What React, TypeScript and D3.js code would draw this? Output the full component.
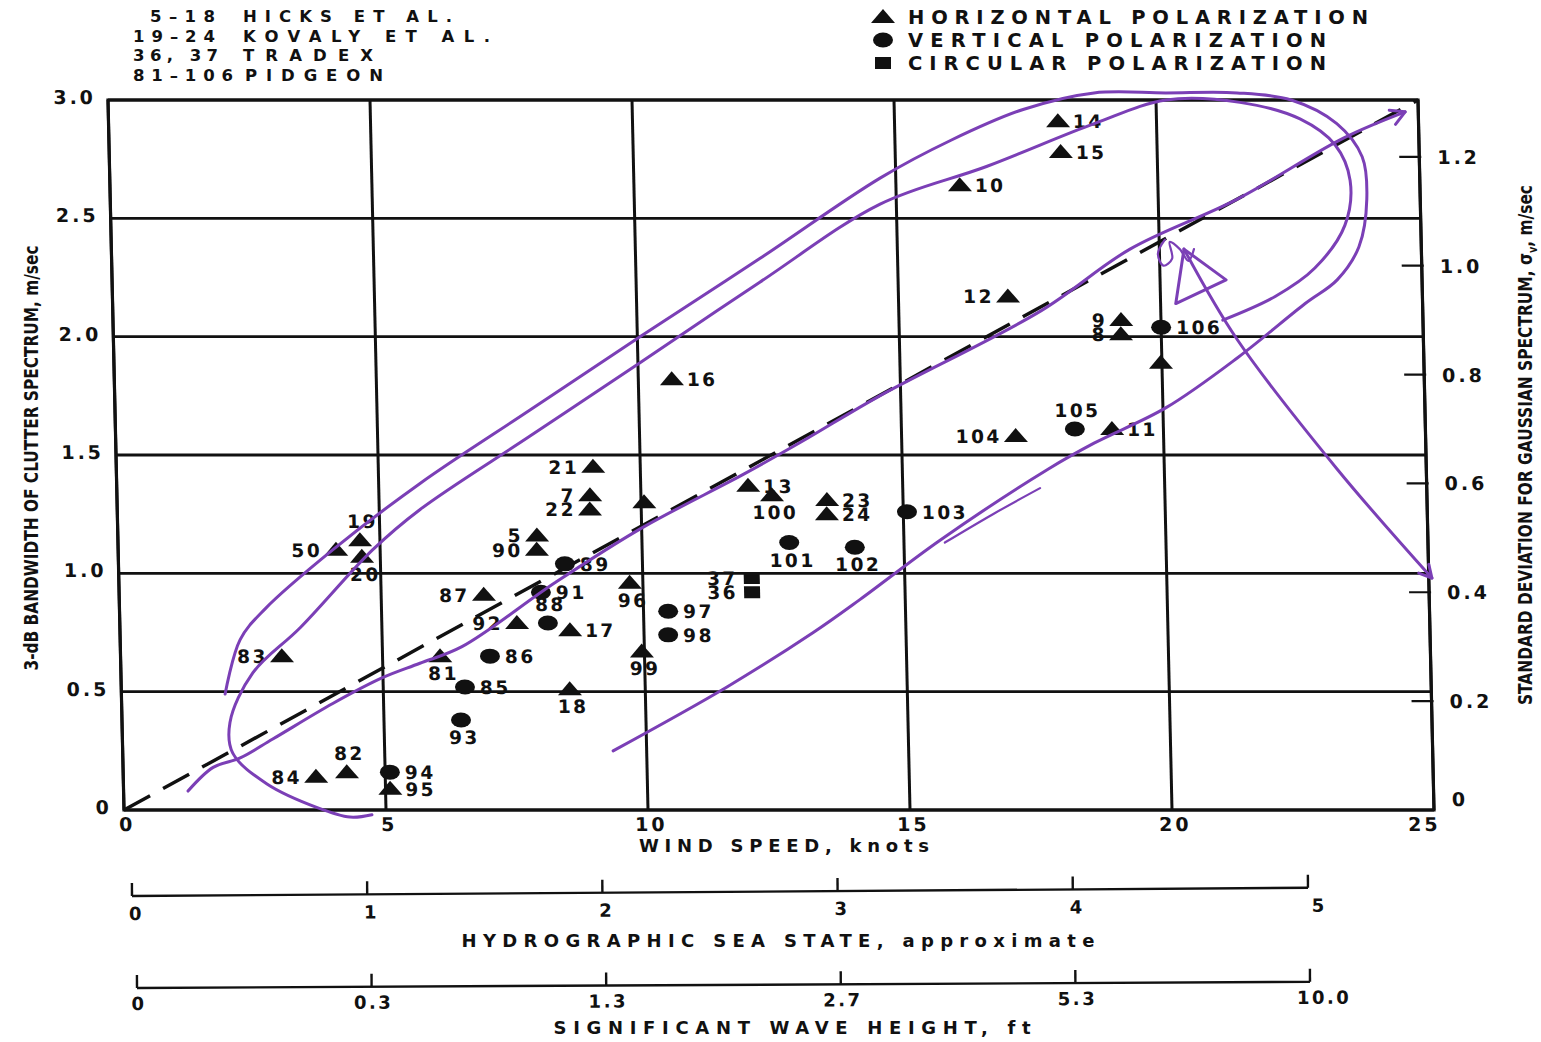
import React from 'react'
import * as d3 from 'd3'

type Pt = [number, number]

// legend text
const sourceRanges = ['5–18', '19–24', '36, 37', '81–106']
const sourceNames = ['HICKS ET AL.', 'KOVALY ET AL.', 'TRADEX', 'PIDGEON']
const polarizationKeys = ['H', 'V', 'C']
const polarizationNames = ['HORIZONTAL POLARIZATION', 'VERTICAL POLARIZATION', 'CIRCULAR POLARIZATION']

// measured points: wind speed (knots) vs 3-dB bandwidth (m/sec)
const pointIds = ['83', '50', '19', '20', '84', '82', '94', '95', '81', '85', '93', '86', '87', '92', '88', '91', '17', '89', '5', '90', '7', '22', '21', '', '96', '99', '18', '97', '98', '37', '36', '13', '100', '101', '102', '23', '24', '103', '16', '10', '14', '15', '12', '9', '8', '106', '', '104', '105', '11']
const windSpeed = [3.08, 4.16, 4.62, 4.65, 3.68, 4.27, 5.09, 5.09, 6.1, 6.56, 6.47, 7.05, 6.96, 7.58, 8.17, 8.05, 8.59, 8.52, 8.0, 7.99, 9.03, 9.02, 9.1, 10.06, 9.75, 9.95, 8.56, 10.47, 10.46, 12.08, 12.08, 12.05, 12.5, 12.81, 14.06, 13.55, 13.54, 15.07, 10.64, 16.22, 18.12, 18.16, 17.09, 19.24, 19.23, 20.0, 19.98, 17.18, 18.31, 19.02]
const bandwidth = [0.65, 1.1, 1.14, 1.07, 0.14, 0.16, 0.16, 0.09, 0.65, 0.52, 0.38, 0.65, 0.91, 0.79, 0.79, 0.92, 0.76, 1.04, 1.16, 1.1, 1.33, 1.27, 1.45, 1.3, 0.96, 0.67, 0.51, 0.84, 0.74, 0.98, 0.92, 1.37, 1.33, 1.13, 1.11, 1.31, 1.25, 1.26, 1.82, 2.64, 2.91, 2.78, 2.17, 2.07, 2.01, 2.04, 1.89, 1.58, 1.61, 1.61]
const polarization = ['H', 'H', 'H', 'H', 'H', 'H', 'V', 'H', 'H', 'V', 'V', 'V', 'H', 'H', 'V', 'V', 'H', 'V', 'H', 'H', 'H', 'H', 'H', 'H', 'H', 'H', 'H', 'V', 'V', 'C', 'C', 'H', 'H', 'V', 'V', 'H', 'H', 'V', 'H', 'H', 'H', 'H', 'H', 'H', 'H', 'V', 'H', 'H', 'V', 'H']
// which side of the marker each number sits on
const labelSide = ['l', 'l', 't', 'b', 'l', 't', 'r', 'r', 'b', 'r', 'b', 'r', 'l', 'l', 't', 'r', 'r', 'r', 'l', 'l', 'l', 'l', 'l', '', 'b', 'b', 'b', 'r', 'r', 'l', 'l', 'r', 'b', 'b', 'b', 'r', 'r', 'r', 'r', 'r', 'r', 'r', 'l', 'l', 'l', 'r', '', 'l', 't', 'r']

// axes
const windTicks = [0, 5, 10, 15, 20, 25]
const bandwidthTicks = [0, 0.5, 1, 1.5, 2, 2.5, 3]
const sigmaTicks = [0, 0.2, 0.4, 0.6, 0.8, 1.0, 1.2]
const sigmaFactor = 2.3
const seaStateTicks = [0, 1, 2, 3, 4, 5]
const waveHeightLabels = ['0', '0.3', '1.3', '2.7', '5.3', '10.0']
const referenceLine: Pt[] = [[0, 0], [25, 3]]

// hand-drawn pen marks on the scan, in (knots, m/sec)
const penLoopOuter: Pt[] = [[1.98, 0.49], [2.29, 0.72], [2.78, 0.85], [4.1, 1.1], [5.79, 1.38], [7.92, 1.69], [10.05, 2.0], [12.37, 2.33], [14.7, 2.67], [16.07, 2.83], [17.46, 2.96], [18.82, 3.03], [20.19, 3.03], [21.55, 3.03], [22.58, 3.0], [23.44, 2.9], [23.91, 2.76], [23.98, 2.58], [23.81, 2.38], [23.38, 2.24], [22.76, 2.14], [21.44, 1.91], [20.06, 1.7], [18.67, 1.55], [17.78, 1.44], [15.69, 1.14], [14.14, 0.89], [13.23, 0.75], [11.56, 0.52], [9.36, 0.25]]
const penLoopInner: Pt[] = [[4.73, -0.02], [4.31, -0.03], [3.69, 0.01], [2.74, 0.11], [2.1, 0.24], [2.06, 0.37], [2.52, 0.58], [3.44, 0.77], [4.86, 1.1], [5.78, 1.27], [7.91, 1.58], [10.04, 1.89], [12.36, 2.23], [14.69, 2.56], [16.75, 2.72], [18.81, 2.9], [20.19, 3.0], [21.6, 2.99], [22.74, 2.92], [23.4, 2.81], [23.67, 2.66], [23.55, 2.47], [22.96, 2.29], [22.19, 2.17], [21.18, 2.07]]
const penTrend: Pt[] = [[1.23, 0.08], [1.72, 0.18], [2.24, 0.22], [2.87, 0.3], [4.03, 0.45], [5.0, 0.56], [5.71, 0.62], [6.52, 0.69], [8.32, 0.96], [9.99, 1.19], [11.98, 1.42], [13.12, 1.56], [14.6, 1.75], [17.72, 2.11], [19.44, 2.37], [21.5, 2.58], [23.57, 2.84], [24.75, 2.95]]
const penPointer: Pt[] = [[25.06, 0.98], [23.3, 1.44], [21.44, 1.99], [20.47, 2.37]]
const penPointerHead: Pt[] = [[20.29, 2.14], [20.47, 2.37], [21.26, 2.24], [20.29, 2.14]]
const penScribble: Pt[] = [[20.11, 2.41], [19.97, 2.35], [20.07, 2.3], [20.24, 2.33], [20.2, 2.4], [20.39, 2.37], [20.55, 2.32], [20.66, 2.37]]
const penHook: Pt[] = [[15.78, 1.13], [16.71, 1.25], [17.62, 1.36]]

const INK = '#111'
const PEN = '#7b3fb6'
const FONT = "'DejaVu Sans', Verdana, sans-serif"
const NARROW = "'DejaVu Sans Condensed', 'Liberation Sans Narrow', 'DejaVu Sans', sans-serif"

export default function App () {
  const W = 1541
  const H = 1042
  const left = 108
  const top = 100
  const pw = 1310
  const ph = 710
  const skew = Math.atan(16 / ph) * 180 / Math.PI

  const x = d3.scaleLinear().domain([0, 25]).range([0, pw])
  const y = d3.scaleLinear().domain([0, 3]).range([ph, 0])
  const ySigma = d3.scaleLinear().domain([0, 3 / sigmaFactor]).range([ph, 0])
  const seaX = d3.scaleLinear().domain([0, 5]).range([0, 1176])
  const waveX = d3.scalePoint<string>().domain(waveHeightLabels).range([0, 1173])

  const pen = d3.line<Pt>().x(d => x(d[0])).y(d => y(d[1])).curve(d3.curveCatmullRom.alpha(0.5))
  const straight = d3.line<Pt>().x(d => x(d[0])).y(d => y(d[1]))

  const arrowHead = (from: Pt, to: Pt, len: number) => {
    const x1 = x(from[0]); const y1 = y(from[1])
    const x2 = x(to[0]); const y2 = y(to[1])
    const a = Math.atan2(y2 - y1, x2 - x1)
    const b = 0.5
    return `M${x2 - len * Math.cos(a - b)},${y2 - len * Math.sin(a - b)}L${x2},${y2}L${x2 - len * Math.cos(a + b)},${y2 - len * Math.sin(a + b)}`
  }

  const marker = (kind: string, cx: number, cy: number, key: string | number) => {
    if (kind === 'H') return <path key={key} d={`M${cx},${cy - 8}L${cx + 12},${cy + 6}L${cx - 12},${cy + 6}Z`} fill={INK} />
    if (kind === 'V') return <ellipse key={key} cx={cx} cy={cy} rx={10} ry={7.5} fill={INK} />
    return <rect key={key} x={cx - 8} y={cy - 6} width={16} height={12} fill={INK} />
  }

  const tickFmt = (d: number) => (d === 0 ? '0' : d.toFixed(1))

  return (
    <svg width={W} height={H} style={{ position: 'absolute', left: 0, top: 0, background: '#fff' }}
      fontFamily={FONT} fontWeight='bold' fill={INK}>
      <rect width={W} height={H} fill='#fff' />

      {/* source legend */}
      <g fontSize={16.5}>
        {sourceRanges.map((s, i) => (
          <text key={'r' + i} x={i === 0 ? 150 : 133} y={22 + i * 19.7} textLength={[65, 82, 85, 100][i]} lengthAdjust='spacing'>{s}</text>
        ))}
        {sourceNames.map((s, i) => (
          <text key={'n' + i} x={i === 3 ? 245 : 243} y={22 + i * 19.7} textLength={[209, 247, 130, 138][i]} lengthAdjust='spacing'>{s}</text>
        ))}
      </g>

      {/* polarization legend */}
      <g fontSize={19.5}>
        {polarizationKeys.map((k, i) => (
          <g key={k}>
            {marker(k, 883, 17 + i * 23, 'm')}
            <text x={908} y={24 + i * 23} textLength={[460, 418, 418][i]} lengthAdjust='spacing'>{polarizationNames[i]}</text>
          </g>
        ))}
      </g>

      {/* main plot, slightly sheared like the scan */}
      <g transform={`translate(${left},${top}) skewX(${skew})`}>
        {bandwidthTicks.map(t => (
          <line key={'h' + t} x1={0} x2={pw} y1={y(t)} y2={y(t)} stroke={INK} strokeWidth={2.8} />
        ))}
        {windTicks.map(t => (
          <line key={'v' + t} x1={x(t)} x2={x(t)} y1={0} y2={ph} stroke={INK} strokeWidth={3} />
        ))}
        {sigmaTicks.filter(t => t > 0).map(t => (
          <line key={'s' + t} x1={pw - 20} x2={pw + 2} y1={ySigma(t)} y2={ySigma(t)} stroke={INK} strokeWidth={2.2} />
        ))}
        <rect x={0} y={0} width={pw} height={ph} fill='none' stroke={INK} strokeWidth={3.2} />

        <path d={straight(referenceLine) || ''} fill='none' stroke={INK} strokeWidth={3.4} strokeDasharray='30 15' />

        <g fontSize={19} letterSpacing={3}>
          {bandwidthTicks.map(t => (
            <text key={'yl' + t} x={-12} y={y(t) + 4} textAnchor='end'>{tickFmt(t)}</text>
          ))}
          {windTicks.map(t => (
            <text key={'xl' + t} x={x(t) + (t === 25 ? -10 : 3)} y={ph + 21} textAnchor='middle'>{t}</text>
          ))}
          {sigmaTicks.map(t => (
            <text key={'sl' + t} x={pw + 18} y={ySigma(t) + (t === 0 ? -4 : 7)} textAnchor='start'>{tickFmt(t)}</text>
          ))}
        </g>

        {pointIds.map((id, i) => marker(polarization[i], x(windSpeed[i]), y(bandwidth[i]), 'p' + i))}

        <g fontSize={18.5} letterSpacing={2.5}>
          {pointIds.map((id, i) => {
            const cx = x(windSpeed[i])
            const cy = y(bandwidth[i])
            const side = labelSide[i]
            if (!id || !side) return null
            if (side === 'l') return <text key={'t' + i} x={cx - 14} y={cy + 7} textAnchor='end'>{id}</text>
            if (side === 'r') return <text key={'t' + i} x={cx + 15} y={cy + 7}>{id}</text>
            if (side === 't') return <text key={'t' + i} x={cx + 3} y={cy - 12} textAnchor='middle'>{id}</text>
            return <text key={'t' + i} x={cx + 3} y={cy + 24} textAnchor='middle'>{id}</text>
          })}
        </g>

        {/* pen annotations */}
        <g fill='none' stroke={PEN} strokeWidth={3} strokeLinecap='round' strokeLinejoin='round'>
          <path d={pen(penLoopOuter) || ''} />
          <path d={pen(penLoopInner) || ''} />
          <path d={pen(penTrend) || ''} />
          <path d={arrowHead(penTrend[penTrend.length - 2], penTrend[penTrend.length - 1], 16)} />
          <path d={pen(penPointer) || ''} />
          <path d={arrowHead(penPointer[1], penPointer[0], 14)} />
          <path d={straight(penPointerHead) || ''} />
          <path d={pen(penScribble) || ''} strokeWidth={2.2} />
          <path d={pen(penHook) || ''} strokeWidth={2.2} />
        </g>
      </g>

      {/* axis titles */}
      <text x={784} y={852} fontSize={18} textAnchor='middle' textLength={290} lengthAdjust='spacing'>WIND SPEED, knots</text>
      <text transform='translate(38,458) rotate(-90)' fontFamily={NARROW} fontSize={19} textAnchor='middle'
        textLength={425} lengthAdjust='spacingAndGlyphs'>3-dB BANDWIDTH OF CLUTTER SPECTRUM, m/sec</text>
      <text transform='translate(1532,445) rotate(-90)' fontFamily={NARROW} fontSize={19} textAnchor='middle'
        textLength={520} lengthAdjust='spacingAndGlyphs'>
        STANDARD DEVIATION FOR GAUSSIAN SPECTRUM, σ<tspan fontSize={12} dy={5}>v</tspan><tspan dy={-5}>, m/sec</tspan>
      </text>

      {/* sea state scale */}
      <g transform='translate(132,896) rotate(-0.4)'>
        <line x1={0} x2={seaX(5)} y1={0} y2={0} stroke={INK} strokeWidth={2.4} />
        {seaStateTicks.map(t => (
          <g key={'ss' + t}>
            <line x1={seaX(t)} x2={seaX(t)} y1={0} y2={-13} stroke={INK} strokeWidth={2.4} />
            <text x={seaX(t) + (t === 5 ? 10 : 3)} y={24} fontSize={18} textAnchor='middle'>{t}</text>
          </g>
        ))}
      </g>
      <text x={778} y={947} fontSize={18} textAnchor='middle' textLength={633} lengthAdjust='spacing'>HYDROGRAPHIC SEA STATE, approximate</text>

      {/* wave height scale */}
      <g transform='translate(137,988) rotate(-0.3)'>
        <line x1={0} x2={waveX('10.0') || 0} y1={0} y2={0} stroke={INK} strokeWidth={2.4} />
        {waveHeightLabels.map((t, i) => (
          <g key={'wh' + t}>
            <line x1={waveX(t) || 0} x2={waveX(t) || 0} y1={0} y2={-13} stroke={INK} strokeWidth={2.4} />
            <text x={(waveX(t) || 0) + (i === 5 ? 14 : 2)} y={22} fontSize={18} textAnchor='middle' letterSpacing={2.5}>{t}</text>
          </g>
        ))}
      </g>
      <text x={792} y={1034} fontSize={18} textAnchor='middle' textLength={477} lengthAdjust='spacing'>SIGNIFICANT WAVE HEIGHT, ft</text>
    </svg>
  )
}
